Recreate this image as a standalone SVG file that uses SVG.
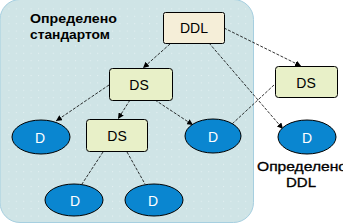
<svg xmlns="http://www.w3.org/2000/svg" width="343" height="224" viewBox="0 0 343 224">
<style>
.box{stroke:#000;stroke-width:1}
.ddl{fill:#f5eed8}
.ds{fill:#e8f0c8}
.ell{fill:#0a86d0;stroke:#000;stroke-width:1}
.t{font-family:"Liberation Sans",Arial,sans-serif;font-size:14px;fill:#000;text-anchor:middle}
.td{font-family:"Liberation Sans",Arial,sans-serif;font-size:14px;fill:#fff;text-anchor:middle}
.lbl{font-family:"Liberation Sans",Arial,sans-serif;font-size:12.5px;font-weight:bold;fill:#000}
.lbl2{font-family:"Liberation Sans",Arial,sans-serif;font-size:13px;fill:#000;stroke:#000;stroke-width:0.3}
.c{stroke:#000;stroke-width:0.8;stroke-dasharray:3 1.5;fill:none}
</style>
<defs>
<pattern id="dots" width="7.4" height="7.4" patternUnits="userSpaceOnUse" x="1" y="1">
<rect x="0" y="0" width="1" height="1" fill="#e4f0f2"/>
</pattern>
<marker id="arr" viewBox="0 0 10 10" refX="10" refY="5" markerWidth="6" markerHeight="6" orient="auto" markerUnits="userSpaceOnUse">
<path d="M0,0 L10,5 L0,10 z" fill="#000"/>
</marker>
</defs>
<g id="background">
<rect x="0" y="-0.5" width="253.5" height="223" rx="20" ry="20" fill="#cfe4e6" stroke="#a6cfe0" stroke-width="1"/>
<rect x="2" y="2" width="250" height="219" rx="19" ry="19" fill="url(#dots)"/>
</g>
<g id="connectors">
<line class="c" x1="170" y1="44" x2="143" y2="68" marker-end="url(#arr)"/>
<line class="c" x1="224" y1="28" x2="301" y2="66" marker-end="url(#arr)"/>
<line class="c" x1="209" y1="43" x2="283" y2="129" marker-end="url(#arr)"/>
<line class="c" x1="274" y1="85" x2="231" y2="125"/>
<line class="c" x1="109" y1="85" x2="56" y2="121" marker-end="url(#arr)"/>
<line class="c" x1="130" y1="100" x2="118" y2="119" marker-end="url(#arr)"/>
<line class="c" x1="155" y1="100" x2="193" y2="125" marker-end="url(#arr)"/>
<line class="c" x1="103" y1="152" x2="82" y2="184"/>
<line class="c" x1="127" y1="152" x2="145" y2="184"/>
</g>
<g id="label-standard">
<text class="lbl" x="30" y="23" textLength="87" lengthAdjust="spacingAndGlyphs">Определено</text>
<text class="lbl" x="30" y="39" textLength="80" lengthAdjust="spacingAndGlyphs">стандартом</text>
</g>
<g id="ddl">
<rect class="box ddl" x="163.5" y="12.5" width="61" height="31" rx="2"/>
<text class="t" x="194" y="33">DDL</text>
</g>
<g id="ds-left">
<rect class="box ds" x="109.5" y="68.5" width="63" height="32" rx="3"/>
<text class="t" x="139" y="90">DS</text>
</g>
<g id="ds-right">
<rect class="box ds" x="275.5" y="66.5" width="62" height="31" rx="3"/>
<text class="t" x="306" y="88">DS</text>
</g>
<g id="ds-mid">
<rect class="box ds" x="86.5" y="119.5" width="61" height="32" rx="3"/>
<text class="t" x="117" y="141">DS</text>
</g>
<g id="d1">
<ellipse class="ell" cx="41" cy="137" rx="29" ry="17"/>
<text class="td" x="40" y="143">D</text>
</g>
<g id="d2">
<ellipse class="ell" cx="213" cy="136" rx="28" ry="17"/>
<text class="td" x="213" y="142">D</text>
</g>
<g id="d3">
<ellipse class="ell" cx="307" cy="137" rx="29" ry="17"/>
<text class="td" x="307" y="143">D</text>
</g>
<g id="d4">
<ellipse class="ell" cx="74" cy="200" rx="29" ry="16"/>
<text class="td" x="75" y="206">D</text>
</g>
<g id="d5">
<ellipse class="ell" cx="154" cy="200" rx="29" ry="16"/>
<text class="td" x="153" y="206">D</text>
</g>
<g id="label-ddl">
<text class="lbl2" x="257" y="171" textLength="90" lengthAdjust="spacingAndGlyphs">Определено</text>
<text class="lbl2" x="286" y="187" textLength="30" lengthAdjust="spacingAndGlyphs">DDL</text>
</g>
</svg>
